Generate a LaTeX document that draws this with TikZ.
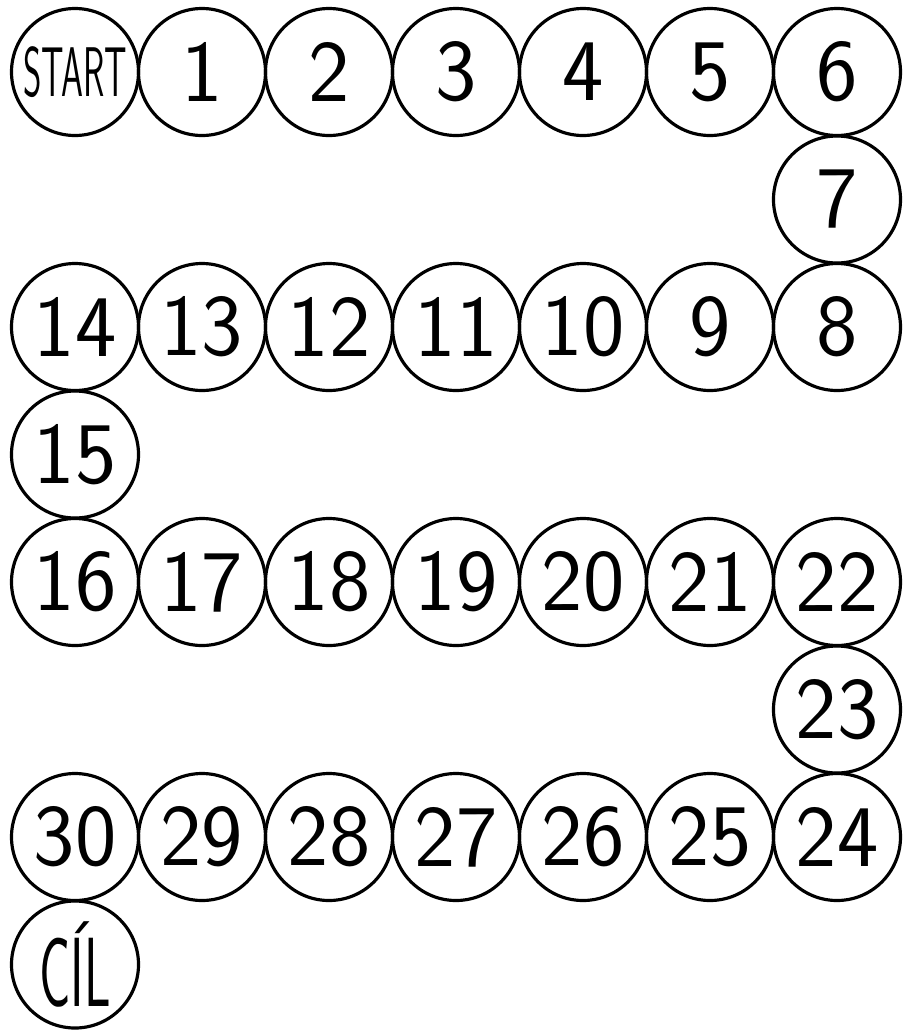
\documentclass[tikz,border=0pt]{standalone}
\usetikzlibrary{positioning}

\begin{document}
\begin{tikzpicture}[
  field/.style={draw, circle, line width=0.9pt, minimum size=1.27cm, inner sep=0pt,
                font=\sffamily\fontsize{25}{25}\selectfont},
  endf/.style={field, font=\sffamily\fontsize{20}{20}\selectfont},
]
\useasboundingbox (0,0) rectangle (9.03,-10.30);
% row 1
\node[endf]  (start) at (0.75,-0.72) {\scalebox{0.5}[1]{START}};
\node[field] (f1)  at (2.02,-0.72) {1};
\node[field] (f2)  at (3.29,-0.72) {2};
\node[field] (f3)  at (4.56,-0.72) {3};
\node[field] (f4)  at (5.83,-0.72) {4};
\node[field] (f5)  at (7.10,-0.72) {5};
\node[field] (f6)  at (8.37,-0.72) {6};
\node[field] (f7)  at (8.37,-1.995) {7};
% row 2
\node[field] (f8)  at (8.37,-3.27) {8};
\node[field] (f9)  at (7.10,-3.27) {9};
\node[field] (f10) at (5.83,-3.27) {10};
\node[field] (f11) at (4.56,-3.27) {11};
\node[field] (f12) at (3.29,-3.27) {12};
\node[field] (f13) at (2.02,-3.27) {13};
\node[field] (f14) at (0.75,-3.27) {14};
\node[field] (f15) at (0.75,-4.545) {15};
% row 3
\node[field] (f16) at (0.75,-5.82) {16};
\node[field] (f17) at (2.02,-5.82) {17};
\node[field] (f18) at (3.29,-5.82) {18};
\node[field] (f19) at (4.56,-5.82) {19};
\node[field] (f20) at (5.83,-5.82) {20};
\node[field] (f21) at (7.10,-5.82) {21};
\node[field] (f22) at (8.37,-5.82) {22};
\node[field] (f23) at (8.37,-7.095) {23};
% row 4
\node[field] (f24) at (8.37,-8.37) {24};
\node[field] (f25) at (7.10,-8.37) {25};
\node[field] (f26) at (5.83,-8.37) {26};
\node[field] (f27) at (4.56,-8.37) {27};
\node[field] (f28) at (3.29,-8.37) {28};
\node[field] (f29) at (2.02,-8.37) {29};
\node[field] (f30) at (0.75,-8.37) {30};
\node[field, font=\sffamily\fontsize{28}{28}\selectfont] (goal) at (0.75,-9.645) {\scalebox{0.53}[1]{CÍL}};
\end{tikzpicture}
\end{document}
